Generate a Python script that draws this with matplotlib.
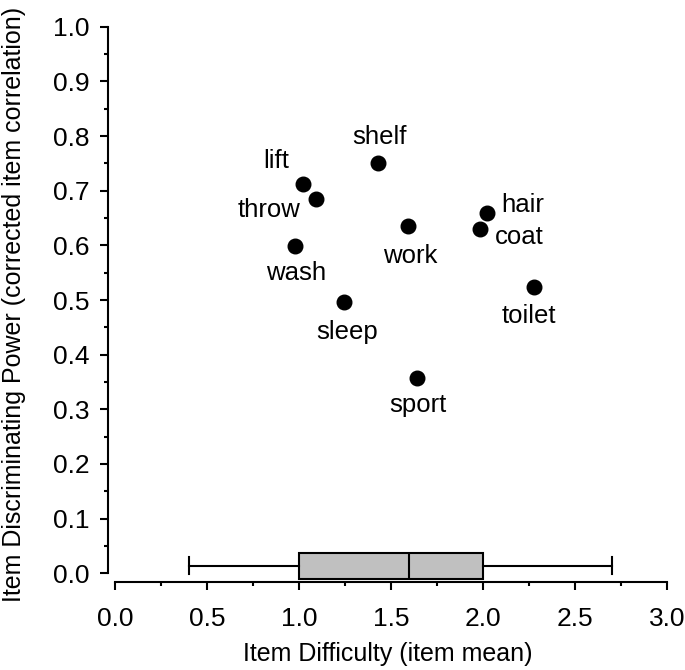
import matplotlib
matplotlib.use("Agg")
import matplotlib.pyplot as plt
from matplotlib.ticker import MultipleLocator

plt.rcParams["font.family"] = ["Liberation Sans", "DejaVu Sans"]

# item difficulty (x) and discriminating power (y)
items = ["shelf", "lift", "throw", "wash", "work", "hair", "coat", "sleep", "toilet", "sport"]
difficulty = [1.428, 1.022, 1.092, 0.980, 1.594, 2.022, 1.982, 1.246, 2.279, 1.640]
discrimination = [0.750, 0.713, 0.684, 0.598, 0.635, 0.660, 0.630, 0.496, 0.524, 0.358]

# label offsets in pixels (dx, dy)
label_offsets = [(2, 26), (-27, 23), (-47, -11), (1, -27), (2, -30),
                 (36, 8), (40, -8), (3, -30), (-5, -29), (1, -27)]

# boxplot summary of item difficulty
box_stats = [{"whislo": 0.4, "q1": 1.0, "med": 1.6, "q3": 2.0, "whishi": 2.7, "fliers": []}]

fig = plt.figure(figsize=(6.85, 6.7), dpi=100)
ax = fig.add_axes([0.1577, 0.1309, 0.816, 0.8292])

ax.scatter(difficulty, discrimination, s=110, color="black", zorder=3)
for name, x, y, (dx, dy) in zip(items, difficulty, discrimination, label_offsets):
    ax.annotate(name, (x, y), xytext=(dx, dy), textcoords="offset pixels",
                ha="center", va="center", fontsize=18.5)

ax.bxp(box_stats, positions=[0.014], widths=0.048, vert=False, patch_artist=True,
       boxprops=dict(facecolor="#c0c0c0", edgecolor="black", linewidth=1.5),
       medianprops=dict(color="black", linewidth=1.5),
       whiskerprops=dict(color="black", linewidth=1.5),
       capprops=dict(color="black", linewidth=1.5),
       capwidths=0.03, manage_ticks=False)

ax.set_xlim(-0.038, 3.0)
ax.set_ylim(-0.0165, 1.0)
ax.spines["top"].set_visible(False)
ax.spines["right"].set_visible(False)
ax.spines["left"].set_bounds(0, 1)
ax.spines["bottom"].set_bounds(0, 3)
for s in ("left", "bottom"):
    ax.spines[s].set_linewidth(1.5)

ax.xaxis.set_major_locator(MultipleLocator(0.5))
ax.xaxis.set_minor_locator(MultipleLocator(0.25))
ax.yaxis.set_major_locator(MultipleLocator(0.1))
ax.yaxis.set_minor_locator(MultipleLocator(0.05))
ax.xaxis.set_major_formatter("{x:.1f}")
ax.yaxis.set_major_formatter("{x:.1f}")
ax.tick_params(which="major", length=6, width=1.5, labelsize=19, direction="out")
ax.tick_params(which="minor", length=3, width=1.5, direction="out")
ax.tick_params(axis="y", pad=7)
ax.tick_params(axis="x", pad=12)

ax.set_xlabel("Item Difficulty (item mean)", fontsize=18, labelpad=8)
ax.set_ylabel("Item Discriminating Power (corrected item correlation)", fontsize=18, labelpad=20)

fig.savefig("out.png", dpi=100)
